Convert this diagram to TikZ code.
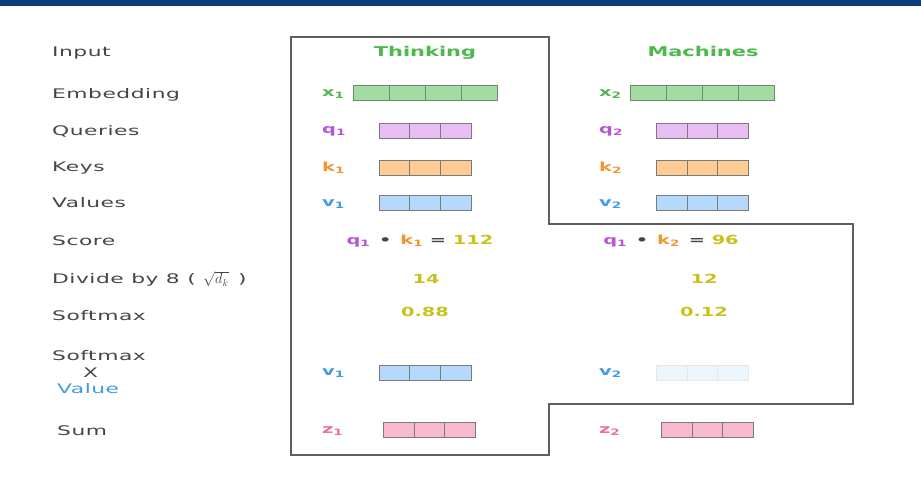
\documentclass[tikz,border=0pt]{standalone}
\usepackage{fontspec}
\setmainfont{DejaVu Sans}[FakeStretch=1.65,LetterSpace=4]
\newfontfamily\wordfont{DejaVu Sans}[FakeStretch=1.55]
\usepackage{tikz}
\usetikzlibrary{positioning,calc}

\definecolor{navy}{HTML}{0A3D78}
\definecolor{labgray}{HTML}{454545}
\definecolor{boxgray}{HTML}{5E5E5E}
\definecolor{cellgray}{HTML}{7A7A7A}
\definecolor{tgreen}{HTML}{4DB84D}
\definecolor{xgreen}{HTML}{55B455}
\definecolor{qpur}{HTML}{B656D6}
\definecolor{korange}{HTML}{F3962B}
\definecolor{vblue}{HTML}{409CE6}
\definecolor{zpink}{HTML}{EE6E98}
\definecolor{numyel}{HTML}{C8C31C}
\definecolor{xfill}{HTML}{A3DCA3}
\definecolor{qfill}{HTML}{E8BDF3}
\definecolor{kfill}{HTML}{FDCB94}
\definecolor{vfill}{HTML}{B6D9FB}
\definecolor{zfill}{HTML}{F8B9D0}
\definecolor{vfaint}{HTML}{EEF6FD}

\begin{document}
\begin{tikzpicture}[x=1pt,y=-1pt,
   lbl/.style={anchor=base west,inner sep=0pt,text=labgray,font=\fontsize{13.2}{15}\selectfont},
   title/.style={anchor=base,inner sep=0pt,text=tgreen,font=\wordfont\bfseries\fontsize{13.5}{16}\selectfont},
   vname/.style={anchor=west,inner sep=0pt,font=\wordfont\bfseries\fontsize{12.5}{15}\selectfont},
   num/.style={inner sep=0pt,text=numyel,font=\wordfont\bfseries\fontsize{12.5}{14}\selectfont},
   cells/.style={path picture={\foreach \c in {1,...,#1}
      \draw[line width=0.7pt] ($(path picture bounding box.south west)!{\c/(#1+1)}!(path picture bounding box.south east)$)
      -- ($(path picture bounding box.north west)!{\c/(#1+1)}!(path picture bounding box.north east)$);}},
   vec/.style={color=#1,draw,line width=0.7pt,inner sep=0pt,minimum width=92pt,minimum height=15pt,cells=2},
   vec/.default=cellgray,
   wvec/.style={vec=#1,minimum width=144pt,cells=3},
   wvec/.default=cellgray]
   \useasboundingbox (0,0) rectangle (921,478);
   \fill[navy] (0,0) rectangle (921,6.5);
   \draw[boxgray,line width=1.2pt] (291,37) -- (549,37) -- (549,224) -- (853,224)
      -- (853,404) -- (549,404) -- (549,455) -- (291,455) -- cycle;
   % row labels
   \node[lbl] (input)  at (52,57)  {Input};
   \node[lbl] (embed)  at (52,99)  {Embedding};
   \node[lbl] (query)  at (52,136) {Queries};
   \node[lbl] (keys)   at (52,172) {Keys};
   \node[lbl] (values) at (52,208) {Values};
   \node[lbl] (score)  at (52,246) {Score};
   \node[lbl] (divide) at (52,284) {Divide by 8 ( {\Large$\sqrt{d_k}$} \,)};
   \node[lbl] (soft)   at (52,321) {Softmax};
   \node[lbl] (softv)  at (52,360) {Softmax};
   \node[lbl] (times)  at (83,377) {X};
   \node[lbl,text=vblue] (value) at (57,393) {Value};
   \node[lbl] (sum)    at (57,435) {Sum};
   % words
   \node[title] (w_1) at (425,57) {Thinking};
   \node[title] (w_2) at (703,57) {Machines};
   % vectors
   \node[wvec=cellgray!70!xgreen,fill=xfill] (x_1) at (425,92.5) {};
   \node[wvec=cellgray!70!xgreen,fill=xfill] (x_2) at (702.5,92.5) {};
   \node[vec,fill=qfill] (q_1) at (425,130.5) {};
   \node[vec,fill=qfill] (q_2) at (702.5,130.5) {};
   \node[vec,fill=kfill] (k_1) at (425,168) {};
   \node[vec,fill=kfill] (k_2) at (702.5,168) {};
   \node[vec,fill=vfill] (v_1) at (425,203) {};
   \node[vec,fill=vfill] (v_2) at (702.5,203) {};
   \node[vec,fill=vfill] (sv_1) at (425,372.5) {};
   \node[vec=cellgray!18,fill=vfaint] (sv_2) at (702.5,372.5) {};
   \node[vec,fill=zfill] (z_1) at (429.5,429.5) {};
   \node[vec,fill=zfill] (z_2) at (707.5,429.5) {};
   % vector names
   \node[vname,text=xgreen]  at (322,94)    {x\textsubscript{1}};
   \node[vname,text=xgreen]  at (599,94)    {x\textsubscript{2}};
   \node[vname,text=qpur]    at (322,131)   {q\textsubscript{1}};
   \node[vname,text=qpur]    at (599,131)   {q\textsubscript{2}};
   \node[vname,text=korange] at (322,168)   {k\textsubscript{1}};
   \node[vname,text=korange] at (599,168)   {k\textsubscript{2}};
   \node[vname,text=vblue]   at (322,204)   {v\textsubscript{1}};
   \node[vname,text=vblue]   at (599,204)   {v\textsubscript{2}};
   \node[vname,text=vblue]   at (322,373)   {v\textsubscript{1}};
   \node[vname,text=vblue]   at (599,373)   {v\textsubscript{2}};
   \node[vname,text=zpink]   at (322,431)   {z\textsubscript{1}};
   \node[vname,text=zpink]   at (599,431)   {z\textsubscript{2}};
   % scores
   \node[num,text=labgray] (s_1) at (420,241)
      {\textcolor{qpur}{q\textsubscript{1}} \,•\, \textcolor{korange}{k\textsubscript{1}} = \textcolor{numyel}{112}};
   \node[num,text=labgray] (s_2) at (671,241)
      {\textcolor{qpur}{q\textsubscript{1}} \,•\, \textcolor{korange}{k\textsubscript{2}} \,= \textcolor{numyel}{96}};
   \node[num] (d_1) at (426,279) {14};
   \node[num] (d_2) at (704,279) {12};
   \node[num] (p_1) at (425,312) {0.88};
   \node[num] (p_2) at (704,312) {0.12};
\end{tikzpicture}
\end{document}
